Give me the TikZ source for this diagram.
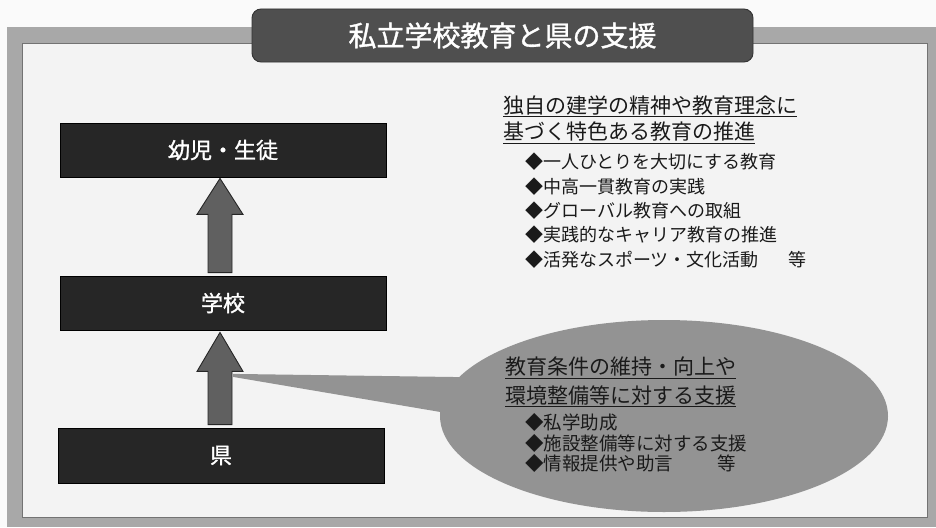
\documentclass[tikz,border=0pt]{standalone}
\usepackage{fontspec}
\setmainfont{Noto Sans CJK JP}
\newfontfamily\medfont[BoldFont={Noto Sans CJK JP}, BoldFeatures={FakeBold=1.2}]{Noto Sans CJK JP}
\usetikzlibrary{shapes.geometric,calc}
\definecolor{pagebg}{HTML}{FAFAFA}
\definecolor{innerbg}{HTML}{F3F3F3}
\definecolor{framegray}{HTML}{A8A8A8}
\definecolor{titlegray}{HTML}{4F4F4F}
\definecolor{boxblack}{HTML}{262626}
\definecolor{arrowgray}{HTML}{606060}
\definecolor{ellgray}{HTML}{939393}
\definecolor{textdark}{HTML}{1A1A1A}
\begin{document}
\begin{tikzpicture}[x=1pt,y=-1pt,
  blackbox/.style={rectangle, fill=boxblack, draw=black, line width=0.8pt,
    minimum width=326pt, minimum height=54pt, inner sep=0pt,
    text=white, font=\fontsize{22}{26}\medfont\bfseries},
  barrow/.style={fill=arrowgray, draw=black!85, line width=0.9pt, line join=miter},
  heading/.style={anchor=west, inner sep=0pt, text=textdark,
    font=\fontsize{21}{25}\selectfont},
  bullet/.style={anchor=west, inner sep=0pt, text=textdark,
    font=\fontsize{18}{22}\selectfont},
  ebullet/.style={anchor=west, inner sep=0pt, text=textdark,
    font=\fontsize{18.5}{22}\selectfont}]
\useasboundingbox (0,0) rectangle (936,527);
\fill[pagebg] (0,0) rectangle (936,527);
% frame
\fill[framegray] (7,27) rectangle (936,527);
\fill[innerbg] (22,43) rectangle (927,517);
\draw[black!55, line width=0.6pt] (22,43) rectangle (927,517);
% title
\node[rectangle, rounded corners=9pt, fill=titlegray, draw=black!80, line width=0.9pt,
  minimum width=501pt, minimum height=53pt, inner sep=0pt,
  text=white, font=\fontsize{28}{32}\medfont\bfseries] (title) at (502.5,35.5) {私立学校教育と県の支援};
% left boxes
\node[blackbox] (kid) at (223,150) {幼児・生徒};
\node[blackbox] (school) at (223,303) {学校};
\node[blackbox, minimum height=55pt] (ken) at (221,455.5) {県};
% arrows
\coordinate (a1b) at ($(school.north)+(-3,-3)$);
\coordinate (a1t) at ($(kid.south)+(-3,1)$);
\draw[barrow] ($(a1b)+(-12,0)$) -- ($(a1b)+(12,0)$) -- ($(a1t)+(12,36)$) -- ($(a1t)+(23,36)$)
  -- (a1t) -- ($(a1t)+(-23,36)$) -- ($(a1t)+(-12,36)$) -- cycle;
\coordinate (a2b) at ($(ken.north)+(-1,-3)$);
\coordinate (a2t) at ($(school.south)+(-3,2)$);
\draw[barrow] ($(a2b)+(-12,0)$) -- ($(a2b)+(12,0)$) -- ($(a2t)+(12,39)$) -- ($(a2t)+(23,39)$)
  -- (a2t) -- ($(a2t)+(-23,39)$) -- ($(a2t)+(-12,39)$) -- cycle;
\coordinate (a2tip) at ($(a2t)+(13,43)$);
% callout
\node[ellipse, fill=ellgray, minimum width=448pt, minimum height=192pt, inner sep=0pt] (support) at (664,416) {};
\fill[ellgray] ($(a2tip)+(0,-1.5)$) -- ($(support.center)+(-104,-37.5)$) -- ($(support.center)+(-194,1)$) -- ($(a2tip)+(0,1.5)$) -- cycle;
% top-right text
\node[heading] (h1) at (503,106) {\underline{独自の建学の精神や教育理念に}};
\node[heading] (h2) at (503,133) {\underline{基づく特色ある教育の推進}};
\node[bullet] (b1) at (525,162) {◆一人ひとりを大切にする教育};
\node[bullet] (b2) at (525,186.5) {◆中高一貫教育の実践};
\node[bullet] (b3) at (525,210.5) {◆グローバル教育への取組};
\node[bullet] (b4) at (525,234.5) {◆実践的なキャリア教育の推進};
\node[bullet] (b5) at (525,259.5) {◆活発なスポーツ・文化活動\hspace{30pt}等};
% ellipse text
\node[heading] (e1) at (505,368) {\underline{教育条件の維持・向上や}};
\node[heading] (e2) at (505,396) {\underline{環境整備等に対する支援}};
\node[ebullet] (eb1) at (525,422) {◆私学助成};
\node[ebullet] (eb2) at (525,443) {◆施設整備等に対する支援};
\node[ebullet] (eb3) at (525,463.5) {◆情報提供や助言\hspace{44pt}等};
\end{tikzpicture}
\end{document}
